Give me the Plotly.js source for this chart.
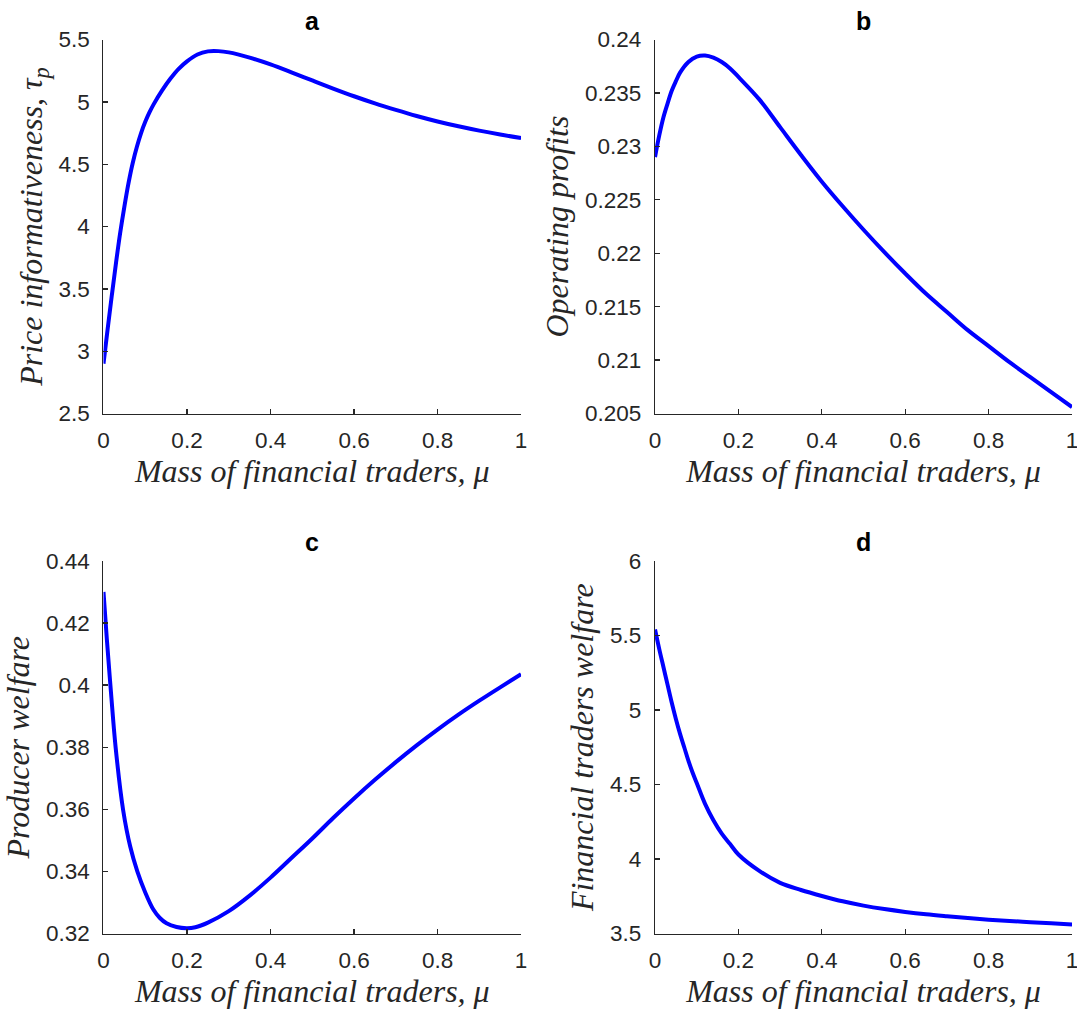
<!DOCTYPE html>
<html>
<head>
<meta charset="utf-8">
<script src="https://cdn.plot.ly/plotly-3.0.1.min.js"></script>
<style>
html,body{margin:0;padding:0;background:#fff;}
#chart{width:1077px;height:1019px;}
</style>
</head>
<body>
<div id="chart"></div>
<script>
// Panel a: price informativeness
const muA = [0, 0.01, 0.02, 0.03, 0.04, 0.05, 0.06, 0.07, 0.08, 0.09, 0.1, 0.11, 0.12, 0.14, 0.16, 0.18, 0.2, 0.225, 0.25, 0.275, 0.3, 0.35, 0.4, 0.45, 0.5, 0.55, 0.6, 0.65, 0.7, 0.75, 0.8, 0.85, 0.9, 0.95, 1.0];
const priceInfo = [2.90, 3.18, 3.45, 3.71, 3.95, 4.16, 4.35, 4.51, 4.64, 4.75, 4.84, 4.915, 4.98, 5.09, 5.185, 5.265, 5.325, 5.38, 5.405, 5.407, 5.397, 5.355, 5.30, 5.237, 5.172, 5.107, 5.045, 4.988, 4.936, 4.887, 4.843, 4.804, 4.769, 4.738, 4.71];

// Panel b: operating profits
const muB = [0, 0.01, 0.02, 0.03, 0.04, 0.05, 0.06, 0.08, 0.1, 0.12, 0.14, 0.16, 0.18, 0.2, 0.25, 0.3, 0.35, 0.4, 0.45, 0.5, 0.55, 0.6, 0.65, 0.7, 0.75, 0.8, 0.85, 0.9, 0.95, 1.0];
const profits = [0.2290, 0.2310, 0.2327, 0.2340, 0.2352, 0.2361, 0.2369, 0.2379, 0.2384, 0.2385, 0.2383, 0.2379, 0.2373, 0.2365, 0.2344, 0.2318, 0.2292, 0.2267, 0.2244, 0.2222, 0.2201, 0.2181, 0.2162, 0.2145, 0.2128, 0.2113, 0.2098, 0.2084, 0.2070, 0.2056];

// Panel c: producer welfare
const muC = [0, 0.008, 0.018, 0.029, 0.047, 0.064, 0.081, 0.1, 0.119, 0.135, 0.151, 0.175, 0.199, 0.22, 0.25, 0.3, 0.35, 0.4, 0.45, 0.5, 0.55, 0.6, 0.65, 0.7, 0.75, 0.8, 0.85, 0.9, 0.95, 1.0];
const producerWelfare = [0.430, 0.4148, 0.3975, 0.380, 0.3598, 0.3480, 0.3400, 0.3332, 0.3278, 0.3250, 0.3233, 0.3221, 0.3217, 0.3220, 0.3235, 0.3272, 0.3322, 0.3380, 0.3443, 0.3506, 0.3572, 0.3635, 0.3695, 0.3752, 0.3806, 0.3857, 0.3905, 0.3950, 0.3993, 0.4035];

// Panel d: financial traders welfare
const muD = [0, 0.01, 0.02, 0.03, 0.04, 0.05, 0.06, 0.07, 0.08, 0.09, 0.1, 0.12, 0.14, 0.16, 0.18, 0.2, 0.25, 0.3, 0.35, 0.4, 0.45, 0.5, 0.55, 0.6, 0.65, 0.7, 0.75, 0.8, 0.85, 0.9, 0.95, 1.0];
const traderWelfare = [5.54, 5.41, 5.29, 5.17, 5.05, 4.94, 4.84, 4.75, 4.66, 4.58, 4.51, 4.37, 4.26, 4.17, 4.10, 4.03, 3.92, 3.84, 3.792, 3.752, 3.716, 3.687, 3.664, 3.645, 3.629, 3.616, 3.604, 3.593, 3.584, 3.576, 3.568, 3.56];

// Tick labels
const xTickVals = [0, 0.2, 0.4, 0.6, 0.8, 1];
const xTickText = ["0", "0.2", "0.4", "0.6", "0.8", "1"];
const aTickVals = [2.5, 3, 3.5, 4, 4.5, 5, 5.5];
const aTickText = ["2.5", "3", "3.5", "4", "4.5", "5", "5.5"];
const bTickVals = [0.205, 0.21, 0.215, 0.22, 0.225, 0.23, 0.235, 0.24];
const bTickText = ["0.205", "0.21", "0.215", "0.22", "0.225", "0.23", "0.235", "0.24"];
const cTickVals = [0.32, 0.34, 0.36, 0.38, 0.40, 0.42, 0.44];
const cTickText = ["0.32", "0.34", "0.36", "0.38", "0.4", "0.42", "0.44"];
const dTickVals = [3.5, 4, 4.5, 5, 5.5, 6];
const dTickText = ["3.5", "4", "4.5", "5", "5.5", "6"];

const panelLabels = ["a", "b", "c", "d"];
const xTitle = "Mass of financial traders, μ";
const yTitles = ["Price informativeness, τ<sub>p</sub>", "Operating profits", "Producer welfare", "Financial traders welfare"];

const axisColor = "#262626";
const lineStyle = {color: "#0000ff", width: 4, shape: "spline", smoothing: 1};

const traces = [
  {x: muA, y: priceInfo, xaxis: "x", yaxis: "y"},
  {x: muB, y: profits, xaxis: "x2", yaxis: "y2"},
  {x: muC, y: producerWelfare, xaxis: "x3", yaxis: "y3"},
  {x: muD, y: traderWelfare, xaxis: "x4", yaxis: "y4"}
].map(t => Object.assign(t, {type: "scatter", mode: "lines", line: lineStyle, showlegend: false, hoverinfo: "skip", cliponaxis: false}));

const tickFont = {family: "Liberation Sans, Arial, sans-serif", size: 22.5, color: axisColor};
const titleFont = {family: "Liberation Serif, Times New Roman, serif", size: 32, color: axisColor, style: "italic"};

function xAxis(domain, anchor) {
  return {
    domain: domain, anchor: anchor, range: [0, 1],
    tickvals: xTickVals, ticktext: xTickText,
    showline: true, linecolor: axisColor, linewidth: 1.3,
    ticks: "inside", ticklen: 5, tickwidth: 1.3, tickcolor: axisColor,
    showgrid: false, zeroline: false, tickfont: tickFont, ticklabelstandoff: 6,
    ticklabeloverflow: "allow",
    title: {text: xTitle, font: titleFont, standoff: 6}
  };
}
function yAxis(domain, anchor, range, vals, text, title) {
  return {
    domain: domain, anchor: anchor, range: range,
    tickvals: vals, ticktext: text,
    showline: true, linecolor: axisColor, linewidth: 1.3,
    ticks: "inside", ticklen: 5, tickwidth: 1.3, tickcolor: axisColor,
    showgrid: false, zeroline: false, tickfont: tickFont, ticklabelstandoff: 8,
    ticklabeloverflow: "allow",
    title: {text: title, font: titleFont, standoff: 6}
  };
}

const xLeft = [0.0961, 0.4838];
const xRight = [0.6082, 0.9954];
const yTop = [0.5942, 0.9612];
const yBottom = [0.0839, 0.4495];

const layout = {
  width: 1077, height: 1019,
  margin: {l: 0, r: 0, t: 0, b: 0},
  paper_bgcolor: "#ffffff", plot_bgcolor: "#ffffff",
  xaxis: xAxis(xLeft, "y"),
  yaxis: yAxis(yTop, "x", [2.5, 5.5], aTickVals, aTickText, yTitles[0]),
  xaxis2: xAxis(xRight, "y2"),
  yaxis2: yAxis(yTop, "x2", [0.205, 0.24], bTickVals, bTickText, yTitles[1]),
  xaxis3: xAxis(xLeft, "y3"),
  yaxis3: yAxis(yBottom, "x3", [0.32, 0.44], cTickVals, cTickText, yTitles[2]),
  xaxis4: xAxis(xRight, "y4"),
  yaxis4: yAxis(yBottom, "x4", [3.5, 6], dTickVals, dTickText, yTitles[3]),
  annotations: [
    [xLeft, yTop], [xRight, yTop], [xLeft, yBottom], [xRight, yBottom]
  ].map((d, i) => ({
    text: "<b>" + panelLabels[i] + "</b>",
    xref: "paper", yref: "paper",
    x: (d[0][0] + d[0][1]) / 2, y: d[1][1],
    xanchor: "center", yanchor: "bottom", yshift: 3,
    showarrow: false,
    font: {family: "Liberation Sans, Arial, sans-serif", size: 25, color: "#000000"}
  }))
};

Plotly.newPlot("chart", traces, layout, {displayModeBar: false, staticPlot: true});
</script>
</body>
</html>
